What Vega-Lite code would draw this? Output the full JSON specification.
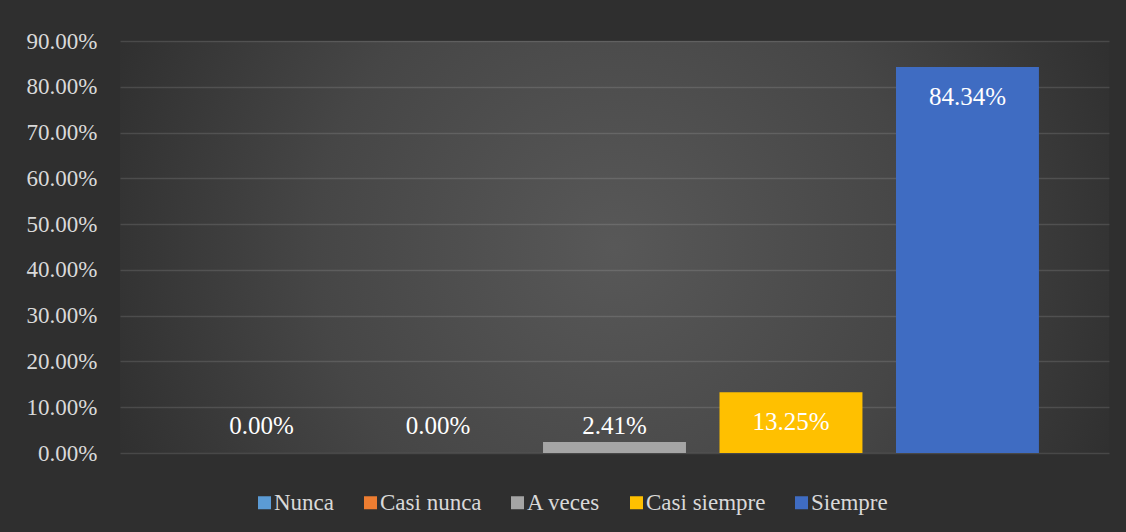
{
  "$schema": "https://vega.github.io/schema/vega-lite/v6.json",
  "width": 989,
  "height": 412,
  "autosize": {"type": "none"},
  "padding": {"left": 120, "top": 41, "right": 17, "bottom": 79},
  "background": "#2f2f2f",
  "view": {
    "stroke": null,
    "fill": {
      "gradient": "radial",
      "x1": 0.5, "y1": 0.5, "x2": 0.5, "y2": 0.5, "r1": 0, "r2": 0.55,
      "stops": [
        {"offset": 0, "color": "#585858"},
        {"offset": 0.55, "color": "#464646"},
        {"offset": 1, "color": "#2f2f2f"}
      ]
    }
  },
  "data": {
    "values": [
      {"cat": "Nunca", "v": 0},
      {"cat": "Casi nunca", "v": 0},
      {"cat": "A veces", "v": 0.0241},
      {"cat": "Casi siempre", "v": 0.1325},
      {"cat": "Siempre", "v": 0.8434}
    ]
  },
  "encoding": {
    "x": {
      "field": "cat", "type": "nominal",
      "sort": ["Nunca", "Casi nunca", "A veces", "Casi siempre", "Siempre"],
      "scale": {"paddingInner": 0.19, "paddingOuter": 0.397},
      "axis": null
    }
  },
  "layer": [
    {
      "mark": {"type": "bar"},
      "encoding": {
        "y": {
          "field": "v", "type": "quantitative",
          "scale": {"domain": [0, 0.9], "nice": false},
          "axis": {
            "format": ".2%", "values": [0, 0.1, 0.2, 0.3, 0.4, 0.5, 0.6, 0.7, 0.8, 0.9],
            "title": null, "domain": false, "ticks": false,
            "labelFont": "Liberation Serif", "labelFontSize": 23, "labelColor": "#d9d9d9",
            "labelPadding": 23,
            "grid": true, "gridColor": "#ffffff", "gridOpacity": 0.12, "gridWidth": 1.3
          }
        },
        "color": {
          "field": "cat", "type": "nominal",
          "sort": ["Nunca", "Casi nunca", "A veces", "Casi siempre", "Siempre"],
          "scale": {"range": ["#5b9bd5", "#ed7d31", "#a5a5a5", "#ffc000", "#3f6cc2"]},
          "legend": {
            "orient": "none", "legendX": 133, "legendY": 450,
            "direction": "horizontal", "title": null,
            "labelFont": "Liberation Serif", "labelFontSize": 23, "labelColor": "#d9d9d9",
            "symbolType": "square", "symbolSize": 169, "symbolStrokeWidth": 0,
            "labelOffset": -2, "columnPadding": 24
          }
        }
      }
    },
    {
      "transform": [{"filter": "datum.v >= 0.1"}],
      "mark": {"type": "text", "font": "Liberation Serif", "fontSize": 25, "color": "#ffffff", "baseline": "middle", "dy": 30},
      "encoding": {
        "y": {"field": "v", "type": "quantitative"},
        "text": {"field": "v", "type": "quantitative", "format": ".2%"}
      }
    },
    {
      "transform": [{"filter": "datum.v < 0.1"}],
      "mark": {"type": "text", "font": "Liberation Serif", "fontSize": 25, "color": "#ffffff", "baseline": "middle", "dy": -27},
      "encoding": {
        "y": {"datum": 0, "type": "quantitative"},
        "text": {"field": "v", "type": "quantitative", "format": ".2%"}
      }
    }
  ]
}
